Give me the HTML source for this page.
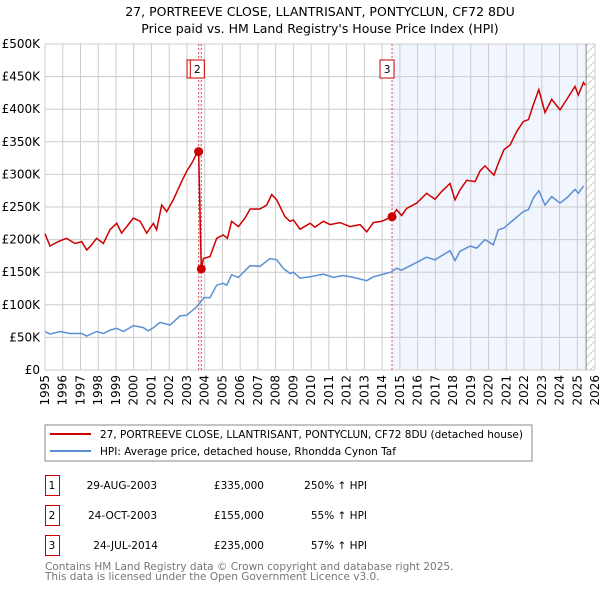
<!DOCTYPE html>
<html><head><meta charset="utf-8"><style>
body{margin:0;background:#fff;font-family:"Liberation Sans","DejaVu Sans",sans-serif;}
svg text{font-family:"DejaVu Sans","Liberation Sans",sans-serif;}
</style></head><body>
<svg id="c" width="600" height="590" xmlns="http://www.w3.org/2000/svg">
<text x="320" y="16" text-anchor="middle" font-size="12.5" fill="#000">27, PORTREEVE CLOSE, LLANTRISANT, PONTYCLUN, CF72 8DU</text>
<text x="320" y="33" text-anchor="middle" font-size="12.5" fill="#000">Price paid vs. HM Land Registry's House Price Index (HPI)</text>
<g id="plot"></g>
<rect x="45" y="425" width="487" height="36" fill="#fff" stroke="#888"/>
<line x1="50" y1="434" x2="91" y2="434" stroke="#cc0000" stroke-width="2"/>
<text x="100" y="438" font-size="10.5">27, PORTREEVE CLOSE, LLANTRISANT, PONTYCLUN, CF72 8DU (detached house)</text>
<line x1="50" y1="451" x2="91" y2="451" stroke="#5b8fd4" stroke-width="2"/>
<text x="100" y="455" font-size="10.5">HPI: Average price, detached house, Rhondda Cynon Taf</text>
<g font-size="10.5">
<rect x="45.5" y="475.5" width="14" height="20" fill="none" stroke="#cc0000"/><text x="52" y="489" text-anchor="middle">1</text>
<text x="157" y="489" text-anchor="end">29-AUG-2003</text><text x="264" y="489" text-anchor="end">£335,000</text><text x="367" y="489" text-anchor="end">250% ↑ HPI</text>
<rect x="45.5" y="505.5" width="14" height="20" fill="none" stroke="#cc0000"/><text x="52" y="519" text-anchor="middle">2</text>
<text x="157" y="519" text-anchor="end">24-OCT-2003</text><text x="264" y="519" text-anchor="end">£155,000</text><text x="367" y="519" text-anchor="end">55% ↑ HPI</text>
<rect x="45.5" y="535.5" width="14" height="20" fill="none" stroke="#cc0000"/><text x="52" y="549" text-anchor="middle">3</text>
<text x="158" y="549" text-anchor="end">24-JUL-2014</text><text x="264" y="549" text-anchor="end">£235,000</text><text x="367" y="549" text-anchor="end">57% ↑ HPI</text>
</g>
<text x="45" y="570" font-size="10.5" fill="#777">Contains HM Land Registry data © Crown copyright and database right 2025.</text>
<text x="45" y="580" font-size="10.5" fill="#777">This data is licensed under the Open Government Licence v3.0.</text>
</svg>
<script>
const hpiYears=[1995,1995.28,1995.85,1996.41,1997.07,1997.35,1997.91,1998.29,1998.66,1999.04,1999.42,1999.98,2000.54,2000.82,2001.11,2001.48,2002.05,2002.61,2002.99,2003.55,2003.96,2004.3,2004.68,2005.05,2005.24,2005.52,2005.9,2006.56,2007.12,2007.68,2008.06,2008.43,2008.81,2009.0,2009.37,2009.94,2010.69,2011.25,2011.82,2012.38,2013.13,2013.51,2014.07,2014.48,2014.82,2015.1,2015.95,2016.51,2016.98,2017.83,2018.11,2018.39,2018.96,2019.33,2019.8,2020.27,2020.55,2020.87,2021.4,2021.96,2022.25,2022.53,2022.83,2023.18,2023.56,2024.03,2024.41,2024.87,2025.06,2025.35];
const hpiValues=[59,55,59,56,56,52,59,56,61,64,59,68,65,60,65,73,69,83,84,97,111,111,130,133,130,146,142,160,159,171,169,156,148,150,141,143,147,142,145,142,137,143,147,150,156,153,165,173,169,183,168,182,190,187,200,192,215,218,230,243,246,264,275,253,266,256,264,277,271,282];
const propYears=[1995,1995.28,1995.75,1996.22,1996.69,1997.07,1997.35,1997.63,1997.91,1998.29,1998.66,1999.04,1999.32,1999.98,2000.36,2000.73,2001.11,2001.29,2001.58,2001.86,2002.23,2002.7,2002.99,2003.27,2003.59,2003.66,2003.81,2003.93,2004.3,2004.68,2005.05,2005.28,2005.52,2005.9,2006.27,2006.56,2007.12,2007.5,2007.78,2008.06,2008.53,2008.81,2009.0,2009.37,2009.94,2010.22,2010.69,2011.07,2011.63,2012.19,2012.76,2013.13,2013.51,2013.98,2014.48,2014.56,2014.82,2015.1,2015.39,2015.95,2016.51,2016.98,2017.36,2017.83,2018.11,2018.39,2018.77,2019.24,2019.52,2019.8,2020.08,2020.31,2020.55,2020.87,2021.21,2021.59,2021.96,2022.25,2022.53,2022.83,2023.18,2023.56,2024.03,2024.41,2024.87,2025.06,2025.35,2025.44];
const propValues=[209,190,197,202,194,197,184,192,202,194,215,225,210,233,228,210,225,215,253,243,261,289,305,317,334,335,155,171,174,202,207,202,228,220,233,247,247,253,269,261,235,228,230,216,225,219,228,223,226,220,223,212,226,228,234,235,246,237,248,256,271,262,274,286,261,276,291,289,305,313,305,299,317,338,345,366,381,384,407,430,395,415,399,415,435,422,441,437];
const saleYears=[2003.66,2003.81,2014.56];
const saleValues=[335,155,235];
const saleLabels=["1","2","3"];
const yTicks=[0,50,100,150,200,250,300,350,400,450,500];
const yTickLabels=["£0","£50K","£100K","£150K","£200K","£250K","£300K","£350K","£400K","£450K","£500K"];
const xTicks=[1995,1996,1997,1998,1999,2000,2001,2002,2003,2004,2005,2006,2007,2008,2009,2010,2011,2012,2013,2014,2015,2016,2017,2018,2019,2020,2021,2022,2023,2024,2025,2026];

const L=45,R=595,T=44,B=370,X0=1995,X1=2026,YMAX=500,DATAEND=2025.5;
const xs=y=>L+(y-X0)/(X1-X0)*(R-L);
const ys=v=>B-v/YMAX*(B-T);
const NS="http://www.w3.org/2000/svg";
const g=document.getElementById('plot');
function mk(t,a,p){const e=document.createElementNS(NS,t);for(const k in a)e.setAttribute(k,a[k]);(p||g).appendChild(e);return e;}

let e;
e=mk('rect',{x:xs(saleYears[2]),y:T,width:xs(DATAEND)-xs(saleYears[2]),height:B-T,fill:'#eef3fc',opacity:0.8});


e=mk('rect',{x:xs(saleYears[0]),y:T,width:xs(saleYears[1])-xs(saleYears[0]),height:B-T,fill:'#eef3fc'});


const defs=mk('defs',{});
const pat=mk('pattern',{id:'h',width:8,height:8,patternUnits:'userSpaceOnUse'},defs);
mk('path',{d:'M0,8 L8,0',stroke:'#ccc','stroke-width':1},pat);
e=mk('rect',{x:xs(DATAEND),y:T,width:R-xs(DATAEND),height:B-T,fill:'url(#h)'});



yTicks.forEach((v,i)=>{
  e=mk('line',{x1:L,x2:R,y1:ys(v),y2:ys(v),stroke:'#ccc','stroke-width':1});
  
  
  e=mk('text',{x:L-5,y:ys(v)+4,'text-anchor':'end','font-size':12,fill:'#000'});
  e.textContent=yTickLabels[i];
  
  
});
xTicks.forEach(y=>{
  e=mk('line',{x1:xs(y),x2:xs(y),y1:T,y2:B,stroke:'#ccc','stroke-width':1});
  
  
  const x=xs(y);
  e=mk('text',{x:0,y:0,'text-anchor':'end','font-size':12,fill:'#000',transform:`translate(${x+4},${B+5}) rotate(-90)`});
  e.textContent=String(y);
  
  
});
e=mk('line',{x1:xs(DATAEND),x2:xs(DATAEND),y1:T,y2:B,stroke:'#888','stroke-width':1});



saleYears.forEach((y,i)=>{
  e=mk('line',{x1:xs(y),x2:xs(y),y1:T,y2:B,stroke:'#e05555','stroke-width':1,'stroke-dasharray':'2,2'});
  
  
});

function path(xa,va){return xa.map((y,i)=>(i?'L':'M')+xs(y).toFixed(1)+','+ys(va[i]).toFixed(1)).join(' ');}
e=mk('path',{d:path(hpiYears,hpiValues),fill:'none',stroke:'#5b8fd4','stroke-width':1.5});


e=mk('path',{d:path(propYears,propValues),fill:'none',stroke:'#cc0000','stroke-width':1.5});



saleYears.forEach((y,i)=>{
  e=mk('circle',{cx:xs(y),cy:ys(saleValues[i]),r:4.5,fill:'#cc0000'});
  
  
});
const boxOff=[-4.6,-4,-5];
saleYears.forEach((y,i)=>{
  const bx=xs(y)+boxOff[i]-7;
  e=mk('rect',{x:bx,y:60,width:14,height:18,fill:'#fff',stroke:'#cc0000','stroke-width':1});
  
  
  e=mk('text',{x:bx+7,y:73,'text-anchor':'middle','font-size':10.5,fill:'#000'});
  e.textContent=saleLabels[i];
  
  
});
</script>
</body></html>
